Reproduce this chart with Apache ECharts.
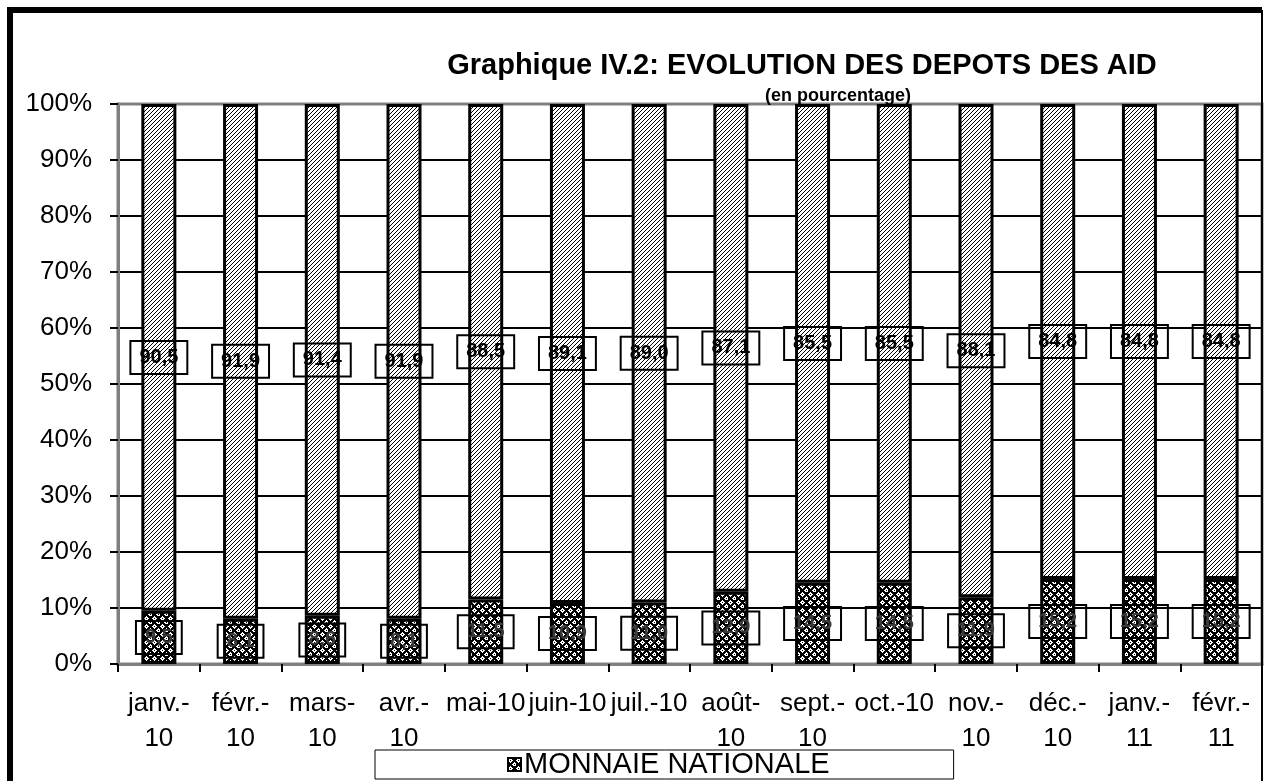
<!DOCTYPE html>
<html>
<head>
<meta charset="utf-8">
<script src="https://cdn.jsdelivr.net/npm/echarts@6/dist/echarts.min.js"></script>
<style>
html,body{margin:0;padding:0;background:#fff;}
#chart{width:1264px;height:781px;}
</style>
</head>
<body>
<div id="chart"></div>
<script>
// ---- data ----
var categories = ['janv.-\n10','févr.-\n10','mars-\n10','avr.-\n10','mai-10','juin-10','juil.-10','août-\n10','sept.-\n10','oct.-10','nov.-\n10','déc.-\n10','janv.-\n11','févr.-\n11'];
var nationale = [9.5, 8.1, 8.6, 8.1, 11.5, 10.9, 11.0, 12.9, 14.5, 14.5, 11.9, 15.2, 15.2, 15.2];
var etrangere = [90.5, 91.9, 91.4, 91.9, 88.5, 89.1, 89.0, 87.1, 85.5, 85.5, 88.1, 84.8, 84.8, 84.8];
var yTicks = [0, 10, 20, 30, 40, 50, 60, 70, 80, 90, 100];
var titleText = 'Graphique IV.2: EVOLUTION DES DEPOTS DES AID';
var subtitleText = '(en pourcentage)';
var seriesNames = ['MONNAIE NATIONALE', 'MONNAIE ETRANGERE'];

// ---- patterns ----
function hatchPattern(){
  var c = document.createElement('canvas'); c.width = 4; c.height = 4;
  var g = c.getContext('2d');
  g.fillStyle = '#fff'; g.fillRect(0,0,4,4);
  g.fillStyle = '#000';
  for (var x = 0; x < 4; x++) g.fillRect(x, 3 - x, 1, 1);
  return c;
}
function circlePattern(){
  var c = document.createElement('canvas'); c.width = 8; c.height = 8;
  var g = c.getContext('2d');
  g.fillStyle = '#000'; g.fillRect(0,0,8,8);
  g.fillStyle = '#fff';
  var centers = [[2,2],[6,6]];
  centers.forEach(function(p){
    g.fillRect(p[0]-1, p[1]-1, 3, 3);
    g.fillRect(p[0]-2, p[1], 1, 1);
    g.fillRect(p[0]+2, p[1], 1, 1);
    g.fillRect(p[0], p[1]-2, 1, 1);
    g.fillRect(p[0], p[1]+2, 1, 1);
  });
  g.fillStyle = '#000';
  centers.forEach(function(p){ g.fillRect(p[0], p[1], 1, 1); });
  return c;
}
var hatch = {image: hatchPattern(), repeat: 'repeat'};
var circles = {image: circlePattern(), repeat: 'repeat'};

function fmt(p){ return p.value.toFixed(1).replace('.', ','); }

var chart = echarts.init(document.getElementById('chart'), null, {renderer: 'canvas'});
var FONT = '"Liberation Sans", Arial, sans-serif';

chart.setOption({
  animation: false,
  backgroundColor: '#fff',
  textStyle: {fontFamily: FONT},
  title: [
    {text: titleText, left: 797, top: 46, textAlign: 'center',
     textStyle: {fontFamily: FONT, fontSize: 29, fontWeight: 'bold', color: '#000'}},
    {text: subtitleText, left: 833, top: 82, textAlign: 'center',
     textStyle: {fontFamily: FONT, fontSize: 18, fontWeight: 'bold', color: '#000'}}
  ],
  legend: {
    data: [seriesNames[0]],
    left: 375, top: 750,
    borderColor: '#000', borderWidth: 1,
    padding: [0, 124, 0, 132],
    itemWidth: 13, itemHeight: 13, itemGap: 4,
    icon: 'rect',
    textStyle: {fontFamily: FONT, fontSize: 29, color: '#000', lineHeight: 26, padding: [0,0,0,-2]}
  },
  grid: {left: 118, top: 104, right: 2, bottom: 117, show: true, borderColor: '#808080', borderWidth: 3},
  xAxis: {
    type: 'category', data: categories,
    axisLine: {lineStyle: {color: '#808080', width: 3}},
    axisTick: {show: true, length: 8, lineStyle: {color: '#000', width: 2}},
    axisLabel: {interval: 0, margin: 22, fontFamily: FONT, fontSize: 26, lineHeight: 35, color: '#000'}
  },
  yAxis: {
    type: 'value', min: 0, max: 100, interval: 10,
    axisLine: {show: true, lineStyle: {color: '#808080', width: 3}},
    axisTick: {show: true, length: 8, lineStyle: {color: '#000', width: 2}},
    axisLabel: {formatter: '{value}%', margin: 26, fontFamily: FONT, fontSize: 26, color: '#000'},
    splitLine: {show: true, showMaxLine: false, showMinLine: false, lineStyle: {color: '#000', width: 2}}
  },
  series: [
    {
      name: seriesNames[0], type: 'bar', stack: 'total', data: nationale, barWidth: 35,
      itemStyle: {color: circles, borderColor: '#000', borderWidth: 3},
      label: {show: true, position: 'inside', formatter: fmt, fontFamily: FONT, fontSize: 20,
              fontWeight: 'bold', color: '#3a3a3a', borderColor: '#000', borderWidth: 2,
              padding: [7, 9, 6, 9], lineHeight: 20}
    },
    {
      name: seriesNames[1], type: 'bar', stack: 'total', data: etrangere, barWidth: 35,
      itemStyle: {color: hatch, borderColor: '#000', borderWidth: 3},
      label: {show: true, position: 'inside', formatter: fmt, fontFamily: FONT, fontSize: 20,
              fontWeight: 'bold', color: '#000', borderColor: '#000', borderWidth: 2,
              padding: [7, 9, 6, 9], lineHeight: 20}
    }
  ],
  graphic: [
    {type: 'polyline', silent: true, z: 100,
     shape: {points: [[10, 781], [10, 10], [1262, 10]]},
     style: {stroke: '#000', lineWidth: 6, fill: null}},
    {type: 'line', silent: true, z: 100,
     shape: {x1: 1262, y1: 10, x2: 1262, y2: 781},
     style: {stroke: '#000', lineWidth: 2}}
  ]
});
</script>
</body>
</html>
